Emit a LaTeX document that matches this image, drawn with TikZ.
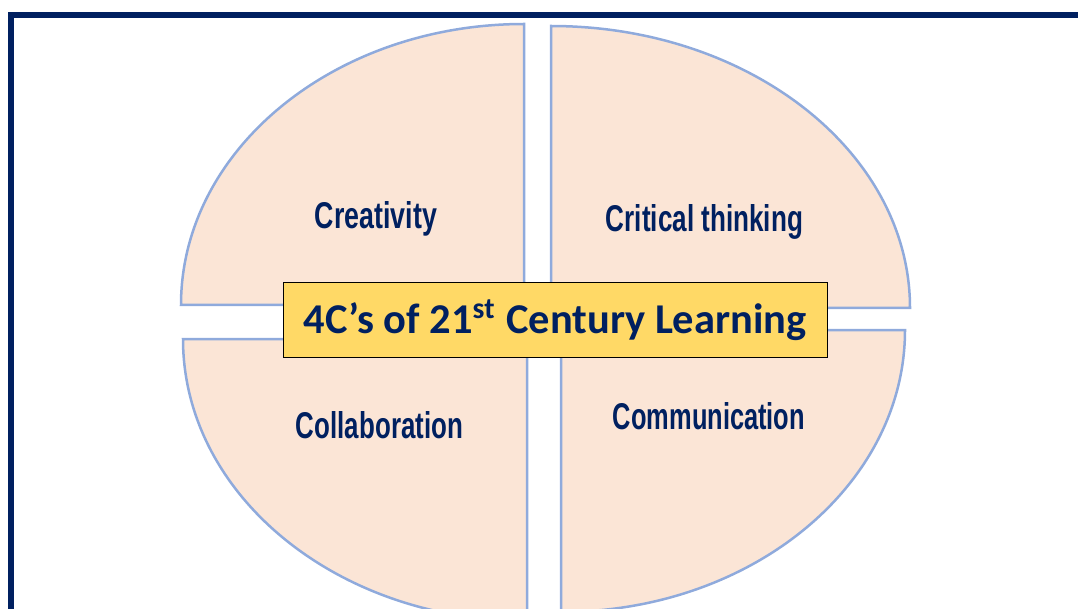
\documentclass[tikz,border=0pt]{standalone}
\usepackage{fontspec}
\usepackage{graphicx}
\setmainfont{Carlito}
\newfontfamily\labfont{Liberation Sans}
\definecolor{navy}{HTML}{002060}
\definecolor{peach}{HTML}{FBE5D6}
\definecolor{edgeblue}{HTML}{8FAADC}
\definecolor{titleyellow}{HTML}{FFD966}
\newcommand{\quadlabel}[2]{\resizebox{#1}{27pt}{\labfont\bfseries #2}}
\begin{document}
\begin{tikzpicture}[x=1pt,y=1pt,
  quad/.style={fill=peach,draw=edgeblue,line width=2.5pt,line join=miter},
  lab/.style={anchor=base,inner sep=0pt,text=navy},
  titlebox/.style={fill=titleyellow,draw=black,line width=1pt,minimum width=544pt,minimum height=74pt,inner sep=0pt,text=navy}]
\useasboundingbox (0,0) rectangle (1078,-609);
\clip (0,0) rectangle (1078,-609);
% frame
\draw[navy,line width=6pt] (11,-640) -- (11,-15) -- (1100,-15);
% quadrants
\draw[quad] (524,-305) -- (181,-305) arc[start angle=180,end angle=90,x radius=343,y radius=281] -- cycle;
\draw[quad] (551,-26) arc[start angle=90,end angle=0,x radius=359,y radius=282] -- (551,-308) -- cycle;
\draw[quad] (561,-330) -- (905,-330) arc[start angle=0,end angle=-90,x radius=344,y radius=282] -- cycle;
\draw[quad] (527,-339) -- (527,-621) arc[start angle=270,end angle=180,x radius=344,y radius=282] -- cycle;
% labels
\node[lab] (creat) at (376,-229) {\quadlabel{122pt}{Creativity}};
\node[lab] (crit) at (704.5,-232) {\quadlabel{197pt}{Critical thinking}};
\node[lab] (collab) at (379.5,-438) {\quadlabel{167pt}{Collaboration}};
\node[lab] (comm) at (709,-429) {\quadlabel{192pt}{Communication}};
% title
\node[titlebox] (title) at (555,-320) {\resizebox{503pt}{!}{\bfseries 4C’s of 21\textsuperscript{st} Century Learning}};
\end{tikzpicture}
\end{document}
